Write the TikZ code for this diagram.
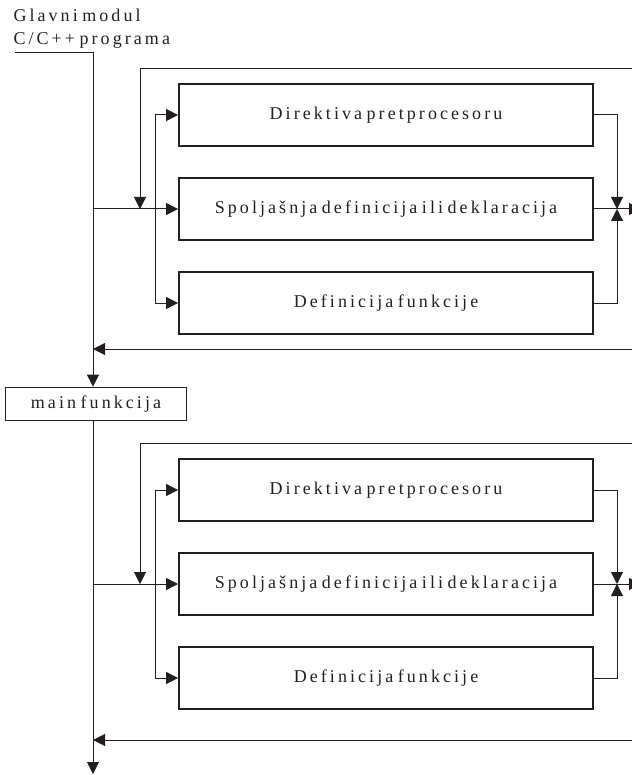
\documentclass[tikz,border=0pt]{standalone}
\usepackage{fontspec}
\setmainfont{Liberation Serif}[LetterSpace=17,WordSpace=0.6]
\usetikzlibrary{arrows.meta,positioning}

\begin{document}
\begin{tikzpicture}[x=1pt, y=-1pt, ->, >={Triangle[length=12pt,width=12pt]},
  line width=1pt, color={rgb,255:red,35;green,31;blue,32},
  node distance=94pt, font=\fontsize{18}{23}\selectfont,
  box/.style={draw, line width=1.8pt, minimum width=414pt, minimum height=62pt, inner sep=0pt}]
  \path[use as bounding box] (0,0) rectangle (631,775);

  \node[anchor=north west, align=left, inner sep=0pt] (T) at (13,9) {Glavni modul\\C/C++ programa};

  \node[box] (D1) at (386,115)  {Direktiva pretprocesoru};
  \node[box] (S1) [below of=D1] {Spoljašnja definicija ili deklaracija};
  \node[box] (F1) [below of=S1] {Definicija funkcije};

  \node[box, minimum width=181pt, minimum height=33pt] (M) at (96,404) {main funkcija};

  \node[box] (D2) at (386,490)  {Direktiva pretprocesoru};
  \node[box] (S2) [below of=D2] {Spoljašnja definicija ili deklaracija};
  \node[box] (F2) [below of=S2] {Definicija funkcije};

  % vertical lines and free ends
  \coordinate (in)    at (15,53);
  \coordinate (spine) at (93,0);
  \coordinate (loop)  at (140,0);
  \coordinate (inner) at (155,0);
  \coordinate (join)  at (617,0);
  \coordinate (out)   at (641,0);
  \coordinate (top1)  at (632,69);
  \coordinate (back1) at (632,349);
  \coordinate (top2)  at (632,443);
  \coordinate (back2) at (632,740);
  \coordinate (end)   at (93,774);

  \draw (in) -| (M.north -| spine);

  % first block
  \draw (spine |- S1.west) -- (S1.west);
  \draw (top1) -| (loop |- S1.west);
  \draw (inner |- S1.west) |- (D1.west);
  \draw (inner |- S1.west) |- (F1.west);
  \draw (D1.east) -| (join |- S1.east);
  \draw (F1.east) -| (join |- S1.east);
  \draw (S1.east) -- (out |- S1.east);
  \draw (back1) -- (spine |- back1);

  \draw (M.south -| spine) -- (end);

  % second block
  \draw (spine |- S2.west) -- (S2.west);
  \draw (top2) -| (loop |- S2.west);
  \draw (inner |- S2.west) |- (D2.west);
  \draw (inner |- S2.west) |- (F2.west);
  \draw (D2.east) -| (join |- S2.east);
  \draw (F2.east) -| (join |- S2.east);
  \draw (S2.east) -- (out |- S2.east);
  \draw (back2) -- (spine |- back2);
\end{tikzpicture}
\end{document}
